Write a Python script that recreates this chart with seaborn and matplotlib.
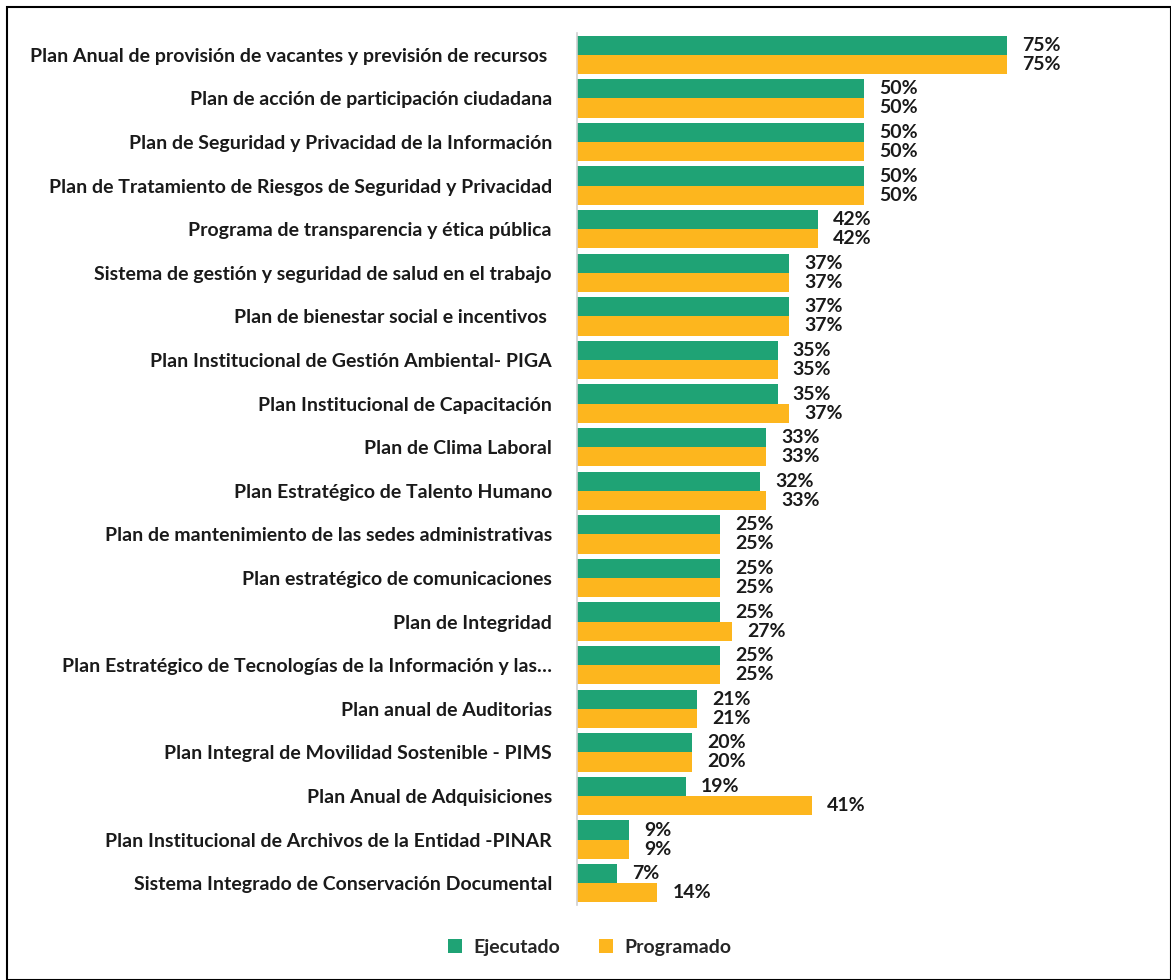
import pandas as pd
import seaborn as sns
import matplotlib.pyplot as plt
from matplotlib.patches import Rectangle

# categorias y valores (%)
planes = [
    "Plan Anual de provisión de vacantes y previsión de recursos ",
    "Plan de acción de participación ciudadana",
    "Plan de Seguridad y Privacidad de la Información",
    "Plan de Tratamiento de Riesgos de Seguridad y Privacidad",
    "Programa de transparencia y ética pública",
    "Sistema de gestión y seguridad de salud en el trabajo",
    "Plan de bienestar social e incentivos ",
    "Plan Institucional de Gestión Ambiental- PIGA",
    "Plan Institucional de Capacitación",
    "Plan de Clima Laboral",
    "Plan Estratégico de Talento Humano",
    "Plan de mantenimiento de las sedes administrativas",
    "Plan estratégico de comunicaciones",
    "Plan de Integridad",
    "Plan Estratégico de Tecnologías de la Información y las…",
    "Plan anual de Auditorias",
    "Plan Integral de Movilidad Sostenible - PIMS",
    "Plan Anual de Adquisiciones",
    "Plan Institucional de Archivos de la Entidad -PINAR",
    "Sistema Integrado de Conservación Documental",
]
ejecutado = [75, 50, 50, 50, 42, 37, 37, 35, 35, 33, 32, 25, 25, 25, 25, 21, 20, 19, 9, 7]
programado = [75, 50, 50, 50, 42, 37, 37, 35, 37, 33, 33, 25, 25, 27, 25, 21, 20, 41, 9, 14]

df = pd.DataFrame({"Plan": planes * 2,
                   "Valor": ejecutado + programado,
                   "Serie": ["Ejecutado"] * len(planes) + ["Programado"] * len(planes)})

sns.set_style("white")
plt.rcParams['font.family'] = ['Lato', 'DejaVu Sans']

fig = plt.figure(figsize=(11.71, 9.8), dpi=100)
ax = fig.add_axes([577 / 1171, 1 - 905 / 980, (1150 - 577) / 1171, (905 - 33) / 980])

sns.barplot(data=df, y="Plan", x="Valor", hue="Serie", orient="h", ax=ax,
            palette={"Ejecutado": "#1fa375", "Programado": "#fdb61e"},
            width=0.88, saturation=1, edgecolor="none")

for c in ax.containers:
    ax.bar_label(c, fmt="{:.0f}%", padding=11, fontsize=14, fontweight="bold", color="#1a1a1a")

ax.set_xlim(0, 100)
ax.set_xlabel("")
ax.set_ylabel("")
ax.set_xticks([])
ax.tick_params(axis="y", length=0, pad=18)
for lbl in ax.get_yticklabels():
    lbl.set_fontweight("bold")
    lbl.set_fontsize(14)
    lbl.set_color("#1a1a1a")
# marcas entre categorias estilo Excel
ax.set_yticks([i - 0.5 for i in range(len(planes) + 1)], minor=True)
ax.tick_params(axis="y", which="minor", length=6, color="#d0d0d0", width=1.2)
for s in ["top", "right", "bottom"]:
    ax.spines[s].set_visible(False)
ax.spines["left"].set_color("#d0d0d0")
ax.spines["left"].set_linewidth(1.2)

ax.legend(loc="center", bbox_to_anchor=(590 / 1171, 1 - 947 / 980), bbox_transform=fig.transFigure,
          ncol=2, frameon=False, handlelength=0.7, handleheight=0.7, handletextpad=0.6,
          columnspacing=2.0, prop={"weight": "bold", "size": 14})

fig.patches.append(Rectangle((7 / 1171, 0), 1 - 7 / 1171, 1 - 7 / 980, transform=fig.transFigure,
                             fill=False, edgecolor="black", linewidth=1.5))

plt.savefig("out.png", dpi=100)
